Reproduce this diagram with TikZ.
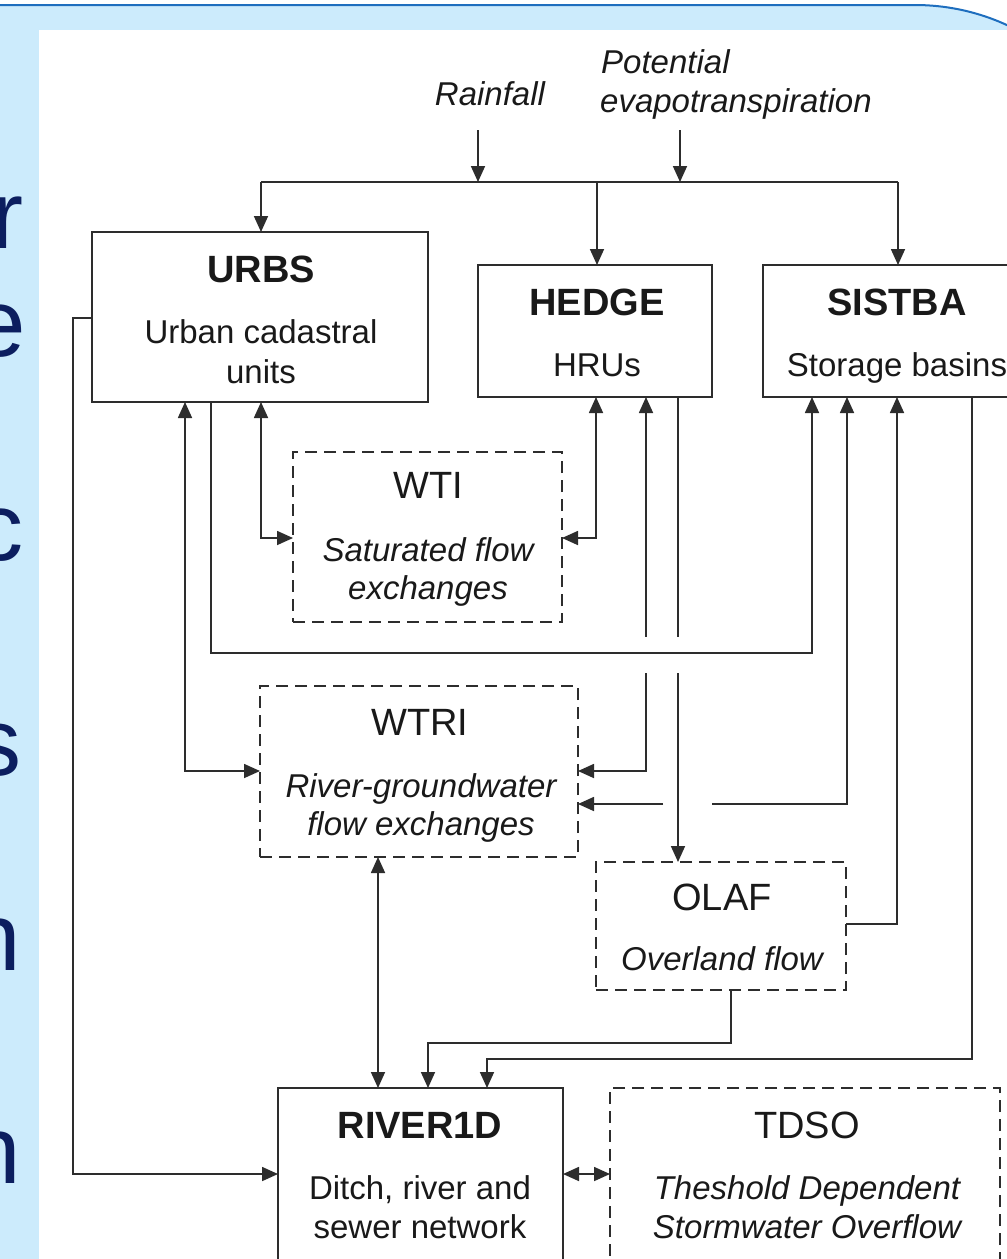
\documentclass[tikz,border=0pt]{standalone}
\usepackage{fontspec}
\setmainfont{Liberation Sans}
\usetikzlibrary{arrows.meta}
\definecolor{slideblue}{RGB}{204,235,252}
\definecolor{frameblue}{RGB}{30,110,190}
\definecolor{navy}{RGB}{12,30,95}
\definecolor{ink}{RGB}{45,45,45}
\definecolor{txt}{RGB}{25,25,25}
\tikzset{
  ln/.style={draw=ink, line width=1.7pt},
  oneway/.style={ln, -{Triangle[length=16pt,width=14pt]}},
  backway/.style={ln, {Triangle[length=16pt,width=14pt]}-},
  twoway/.style={ln, {Triangle[length=16pt,width=14pt]}-{Triangle[length=16pt,width=14pt]}},
  solidbox/.style={draw=ink, line width=1.7pt, rectangle, inner sep=0pt, outer sep=0pt},
  dashbox/.style={solidbox, dash pattern=on 12pt off 7pt},
  title/.style={text=txt, anchor=base, inner sep=0pt, font=\fontsize{38}{40}\selectfont},
  btitle/.style={text=txt, anchor=base, inner sep=0pt, font=\fontsize{38}{40}\selectfont\bfseries},
  sub/.style={text=txt, anchor=base, inner sep=0pt, font=\fontsize{33}{38}\selectfont},
  isub/.style={text=txt, anchor=base, inner sep=0pt, font=\fontsize{33}{38}\selectfont\itshape},
  bigletter/.style={text=navy, anchor=base east, inner sep=0pt, font=\fontsize{96}{100}\selectfont}
}
\begin{document}
\begin{tikzpicture}[x=1pt,y=-1pt]
\useasboundingbox (0,0) rectangle (1007,1259);
\clip (0,0) rectangle (1007,1259);
% slide background
\fill[white] (0,0) rectangle (1007,1259);
\fill[slideblue] (-20,5) -- (915,5) .. controls (1036.5,5) and (1135,103.5) .. (1135,225) -- (1135,1300) -- (-20,1300) -- cycle;
\draw[frameblue, line width=2pt] (-20,5) -- (915,5) .. controls (1036.5,5) and (1135,103.5) .. (1135,225);
\fill[white] (39,30) rectangle (1030,1280);
% cut-off slide letters
\node[bigletter] (la) at (24,248) {r};
\node[bigletter] (lb) at (26,356) {e};
\node[bigletter] (lc) at (24,560) {c};
\node[bigletter] (ld) at (22,775) {s};
\node[bigletter] (le) at (21,970) {n};
\node[bigletter] (lf) at (21,1183) {n};

% boxes
\node[solidbox, minimum width=336pt, minimum height=170pt] (urbs) at (260,317) {};
\node[solidbox, minimum width=234pt, minimum height=132pt] (hedge) at (595,331) {};
\node[solidbox, minimum width=270pt, minimum height=132pt] (sistba) at (898,331) {};
\node[dashbox, minimum width=269pt, minimum height=170pt] (wti) at (427.5,537) {};
\node[dashbox, minimum width=318pt, minimum height=171pt] (wtri) at (419,771.5) {};
\node[dashbox, minimum width=250pt, minimum height=128pt] (olaf) at (721,926) {};
\node[solidbox, minimum width=285pt, minimum height=204pt] (river) at (420.5,1190) {};
\node[dashbox, minimum width=390pt, minimum height=204pt] (tdso) at (805,1190) {};

% texts
\node[isub] (rain) at (490,105) {Rainfall};
\node[isub, anchor=base west] (pet1) at (601,73) {Potential};
\node[isub, anchor=base west] (pet2) at (600,112) {evapotranspiration};

\node[btitle] (urbsT) at (261,282) {URBS};
\node[sub] (urbsA) at (261,343) {Urban cadastral};
\node[sub] (urbsB) at (261,383) {units};

\node[btitle] (hedgeT) at (597,315) {HEDGE};
\node[sub] (hedgeA) at (597,376) {HRUs};

\node[btitle] (sistbaT) at (897,315) {SISTBA};
\node[sub] (sistbaA) at (897,376) {Storage basins};

\node[title] (wtiT) at (428,498) {WTI};
\node[isub] (wtiA) at (428,561) {Saturated flow};
\node[isub] (wtiB) at (428,599) {exchanges};

\node[title] (wtriT) at (420,735) {WTRI};
\node[isub] (wtriA) at (421,797) {River-groundwater};
\node[isub] (wtriB) at (421,835) {flow exchanges};

\node[title] (olafT) at (722,910) {OLAF};
\node[isub] (olafA) at (722,970) {Overland flow};

\node[btitle] (riverT) at (420,1138) {RIVER1D};
\node[sub] (riverA) at (420,1199) {Ditch, river and};
\node[sub] (riverB) at (420,1238) {sewer network};

\node[title] (tdsoT) at (807,1138) {TDSO};
\node[isub] (tdsoA) at (807,1199) {Theshold Dependent};
\node[isub] (tdsoB) at (807,1238) {Stormwater Overflow};

% free ends
\coordinate (rainA) at (478,130);
\coordinate (petA) at (680,130);
\coordinate (barL) at (261,182);
\coordinate (barM) at (597,182);
\coordinate (barR) at (898,182);
\coordinate (hwUp) at (646,637);
\coordinate (hwDn) at (646,673);
\coordinate (hoUp) at (678,637);
\coordinate (hoDn) at (678,673);
\coordinate (swR) at (712,804);
\coordinate (swL) at (663,804);

% inputs
\draw[oneway] (rainA) -- (rainA |- barL);
\draw[oneway] (petA) -- (petA |- barL);
\draw[ln] (barL) -- (barR);
\draw[oneway] (barL) -- (barL |- urbs.north);
\draw[oneway] (barM) -- (barM |- hedge.north);
\draw[oneway] (barR) -- (barR |- sistba.north);

% URBS connectors
\draw[oneway] (urbs.west |- 0,318) -| (73,1174) -- (river.west |- 0,1174);
\draw[twoway] (185,0 |- urbs.south) |- (wtri.west |- 0,771);
\draw[twoway] (261,0 |- urbs.south) |- (wti.west |- 0,538);
\draw[oneway] (211,0 |- urbs.south) |- (812,653) -- (812,0 |- sistba.south);

% HEDGE connectors
\draw[twoway] (596,0 |- hedge.south) |- (wti.east |- 0,538);
\draw[backway] (646,0 |- hedge.south) -- (hwUp);
\draw[oneway] (hwDn) |- (wtri.east |- 0,771);
\draw[ln] (678,0 |- hedge.south) -- (hoUp);
\draw[oneway] (hoDn) -- (678,0 |- olaf.north);

% SISTBA connectors
\draw[oneway] (swR) -| (847,0 |- sistba.south);
\draw[oneway] (swL) -- (wtri.east |- 0,804);
\draw[oneway] (olaf.east |- 0,924) -| (897,0 |- sistba.south);
\draw[oneway] (972,0 |- sistba.south) |- (487,1059) -- (487,0 |- river.north);

% to RIVER1D
\draw[oneway] (731,0 |- olaf.south) |- (428,1043) -- (428,0 |- river.north);
\draw[twoway] (378,0 |- wtri.south) -- (378,0 |- river.north);
\draw[twoway] (river.east |- 0,1174) -- (tdso.west |- 0,1174);
\end{tikzpicture}
\end{document}
